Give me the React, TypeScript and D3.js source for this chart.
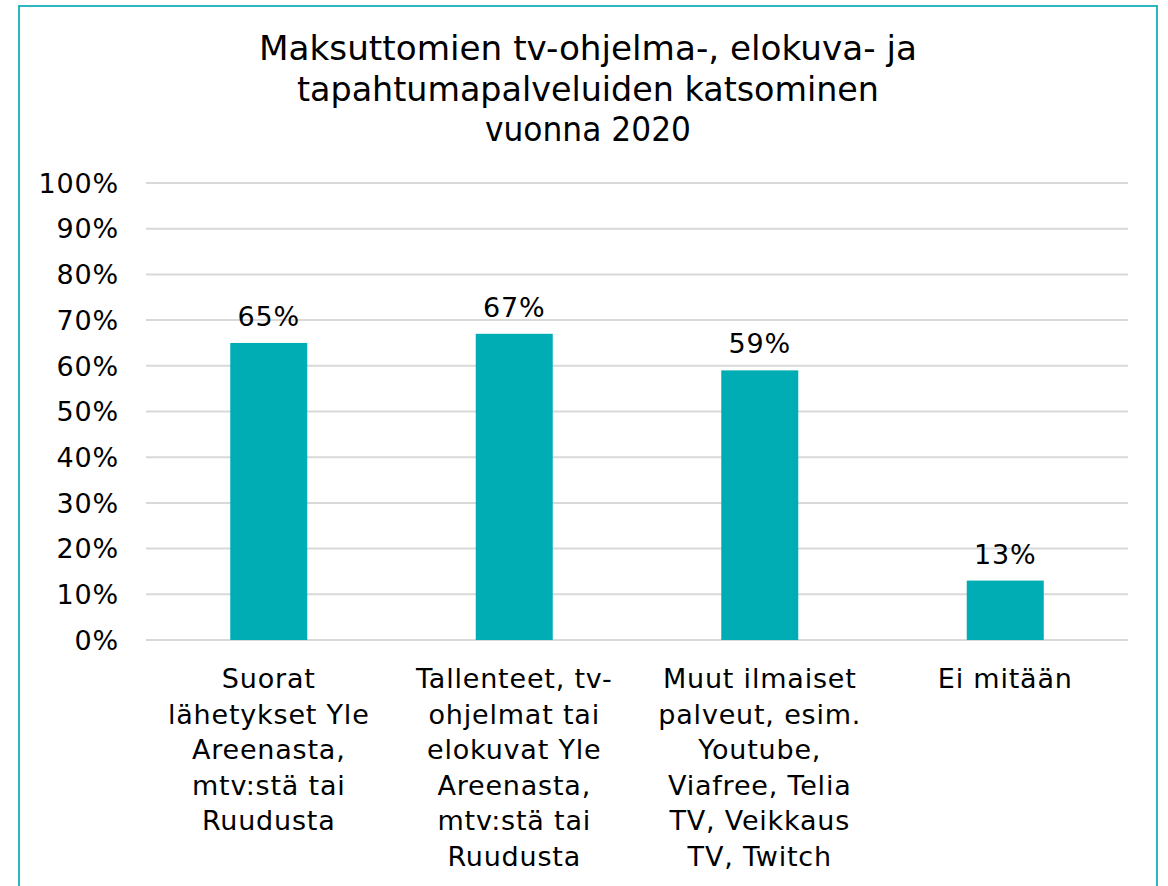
import * as d3 from 'd3';
import React, {useRef, useEffect} from 'react';

const categories = [
  ["Suorat", "lähetykset Yle", "Areenasta,", "mtv:stä tai", "Ruudusta"],
  ["Tallenteet, tv-", "ohjelmat tai", "elokuvat Yle", "Areenasta,", "mtv:stä tai", "Ruudusta"],
  ["Muut ilmaiset", "palveut, esim.", "Youtube,", "Viafree, Telia", "TV, Veikkaus", "TV, Twitch"],
  ["Ei mitään"],
];
const values = [65, 67, 59, 13];
const ticks = [0, 10, 20, 30, 40, 50, 60, 70, 80, 90, 100];
const titleLines = ["Maksuttomien tv-ohjelma-, elokuva- ja", "tapahtumapalveluiden katsominen", "vuonna 2020"];

const W = 1168, H = 886;
const FONT = "'DejaVu Sans', Verdana, sans-serif";

const App = () => {
  const ref = useRef<SVGSVGElement>(null);

  useEffect(() => {
    const svg = d3.select(ref.current);
    svg.selectAll("*").remove();

    // frame
    svg.append("rect").attr("x", 19).attr("y", 6).attr("width", 1138).attr("height", 900)
      .attr("fill", "white").attr("stroke", "#2cb7bf").attr("stroke-width", 2);

    const x = d3.scaleBand().domain(values.map((d, i) => String(i))).range([146, 1128]).paddingInner(0).paddingOuter(0);
    const y = d3.scaleLinear().domain([0, 100]).range([640, 183]);

    // title (the original is a bit condensed, so squeeze to the measured widths)
    const title = svg.append("text").attr("font-family", FONT).attr("font-size", 33).attr("fill", "#000")
      .attr("text-anchor", "middle");
    const titleW = [658, 582, 206];
    titleLines.forEach((t, i) => {
      title.append("tspan").attr("x", 588).attr("y", 60 + i * 40.5).text(t)
        .attr("textLength", titleW[i]).attr("lengthAdjust", "spacingAndGlyphs");
    });

    // grid
    svg.append("g").selectAll("line").data(ticks).join("line")
      .attr("x1", 146).attr("x2", 1128)
      .attr("y1", d => y(d)).attr("y2", d => y(d))
      .attr("stroke", "#d9d9d9").attr("stroke-width", 2);

    // y ticks
    svg.append("g").selectAll("text").data(ticks).join("text")
      .attr("x", 119).attr("y", d => y(d)).attr("dy", "0.36em")
      .attr("text-anchor", "end").attr("font-family", FONT).attr("font-size", 27)
      .attr("letter-spacing", 0.8)
      .attr("fill", "#000").text(d => d + "%");

    // bars
    const bw = 77;
    svg.append("g").selectAll("rect").data(values).join("rect")
      .attr("x", (d, i) => x(String(i))! + x.bandwidth() / 2 - bw / 2)
      .attr("width", bw)
      .attr("y", d => y(d)).attr("height", d => y(0) - y(d))
      .attr("fill", "#00adb4");

    // value labels
    svg.append("g").selectAll("text").data(values).join("text")
      .attr("x", (d, i) => x(String(i))! + x.bandwidth() / 2)
      .attr("y", d => y(d) - 17)
      .attr("text-anchor", "middle").attr("font-family", FONT).attr("font-size", 27)
      .attr("letter-spacing", 0.8)
      .attr("fill", "#000").text(d => d + "%");

    // category labels
    categories.forEach((lines, i) => {
      const t = svg.append("text").attr("text-anchor", "middle").attr("font-family", FONT)
        .attr("font-size", 27).attr("letter-spacing", 0.8).attr("fill", "#000");
      lines.forEach((l, j) => {
        t.append("tspan").attr("x", x(String(i))! + x.bandwidth() / 2).attr("y", 688 + j * 35.5).text(l);
      });
    });
  }, []);

  return (
    <div style={{position: "absolute", left: 0, top: 0}}>
      <svg ref={ref} width={W} height={H} style={{display: "block"}}></svg>
    </div>
  );
};

export default App;
